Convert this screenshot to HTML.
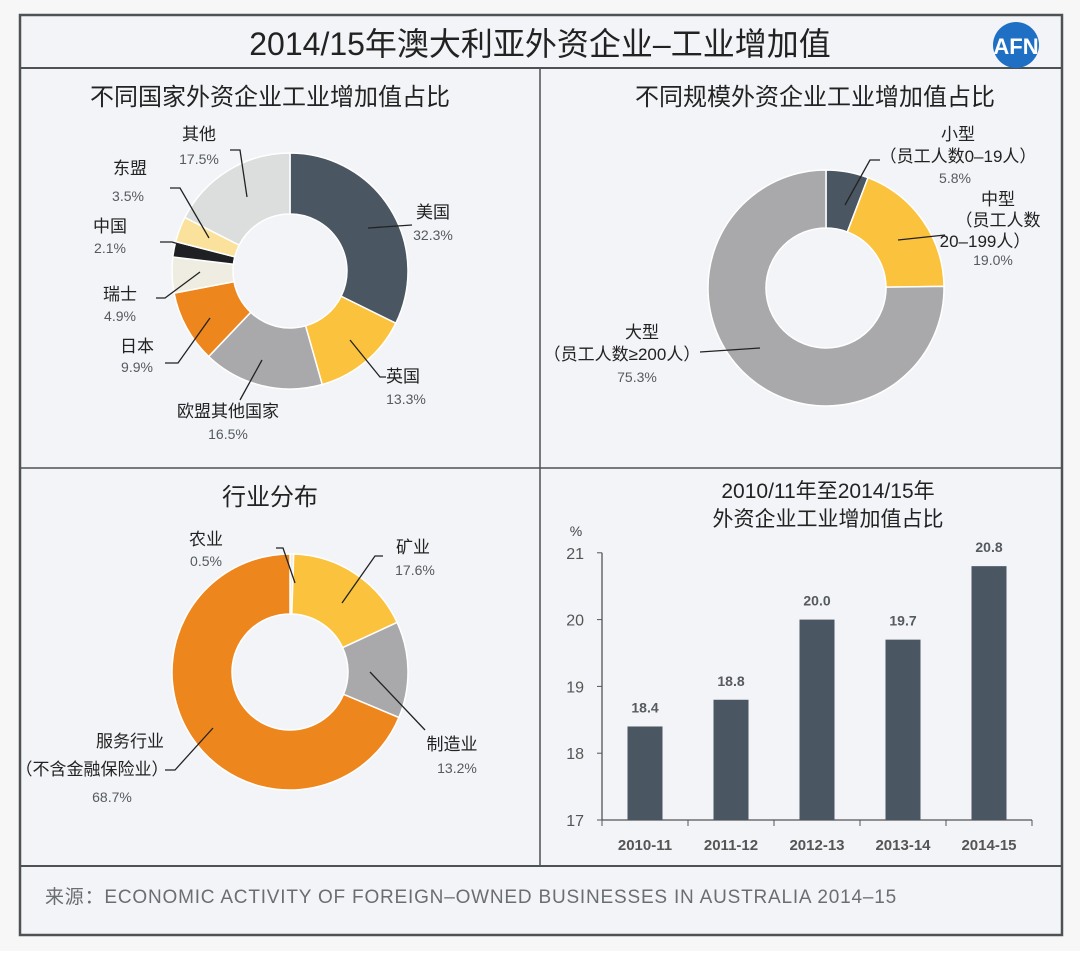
<!DOCTYPE html>
<html><head><meta charset="utf-8">
<style>
body{margin:0;background:#fff;}
svg text{font-family:"Liberation Sans","Noto Sans CJK SC",sans-serif;}
</style></head>
<body>
<svg id="root" width="1080" height="951" viewBox="0 0 1080 951" xmlns="http://www.w3.org/2000/svg">
<rect x="0" y="0" width="1080" height="951" fill="#f7f7f8"/>
<rect x="20" y="15" width="1042" height="920" fill="#f3f4f7" stroke="#4e5255" stroke-width="2.5"/>
<line x1="20" y1="68" x2="1062" y2="68" stroke="#4e5255" stroke-width="2"/>
<line x1="540" y1="68" x2="540" y2="866" stroke="#4e5255" stroke-width="1.5"/>
<line x1="20" y1="468" x2="1062" y2="468" stroke="#4e5255" stroke-width="1.5"/>
<line x1="20" y1="866" x2="1062" y2="866" stroke="#4e5255" stroke-width="2"/>
<text x="540" y="55" text-anchor="middle" font-size="32" fill="#222">2014/15年澳大利亚外资企业–工业增加值</text>
<g><circle cx="1016" cy="45" r="23" fill="#1f6fc4"/><text x="1016" y="54" text-anchor="middle" font-size="22" fill="#fff" font-weight="bold">AFN</text></g>
<text x="270" y="105" text-anchor="middle" font-size="24" fill="#222">不同国家外资企业工业增加值占比</text>
<text x="815" y="105" text-anchor="middle" font-size="24" fill="#222">不同规模外资企业工业增加值占比</text>
<text x="270" y="505" text-anchor="middle" font-size="24" fill="#222">行业分布</text>
<text x="828" y="498" text-anchor="middle" font-size="21" fill="#222">2010/11年至2014/15年</text>
<text x="828" y="526" text-anchor="middle" font-size="21" fill="#222">外资企业工业增加值占比</text>
<text x="45" y="903" font-size="19" letter-spacing="0.8" fill="#6a6e72">来源：ECONOMIC ACTIVITY OF FOREIGN–OWNED BUSINESSES IN AUSTRALIA 2014–15</text>
<g id="donuts"></g>
<g id="labels" font-size="16" fill="#333"></g>
<g id="bars"></g>
</svg>
<script>
const countryNames=["美国","英国","欧盟其他国家","日本","瑞士","中国","东盟","其他"];
const countryValues=[32.3,13.3,16.5,9.9,4.9,2.1,3.5,17.5];
const countryColors=["#4a5662","#fbc23e","#a9a9ac","#ee861e","#efece1","#1e2023","#fbe29c","#dcdedd"];
const sizeNames=["小型","中型","大型"];
const sizeValues=[5.8,19.0,75.3];
const sizeColors=["#4a5662","#fbc23e","#a9a9ac"];
const industryNames=["农业","矿业","制造业","服务行业"];
const industryValues=[0.5,17.6,13.2,68.7];
const industryColors=["#efece1","#fbc23e","#a9a9ac","#ee861e"];
const years=["2010-11","2011-12","2012-13","2013-14","2014-15"];
const shares=[18.4,18.8,20.0,19.7,20.8];
const yTicks=[17,18,19,20,21];

const NS="http://www.w3.org/2000/svg";
function mk(tag,attrs,parent){const e=document.createElementNS(NS,tag);for(const k in attrs)e.setAttribute(k,attrs[k]);parent.appendChild(e);return e;}
const dg=document.getElementById('donuts');
function donut(name,vals,cols,cx,cy,R,r){
  const tot=vals.reduce((a,b)=>a+b,0);let a0=0;
  vals.forEach((v,i)=>{
    const a1=a0+v/tot*2*Math.PI;
    const p=(a,rad)=>[cx+rad*Math.sin(a),cy-rad*Math.cos(a)];
    const [x1,y1]=p(a0,R),[x2,y2]=p(a1,R),[x3,y3]=p(a1,r),[x4,y4]=p(a0,r);
    const lg=(a1-a0)>Math.PI?1:0;
    const el=mk('path',{d:`M${x1},${y1}A${R},${R} 0 ${lg} 1 ${x2},${y2}L${x3},${y3}A${r},${r} 0 ${lg} 0 ${x4},${y4}Z`,fill:cols[i],stroke:'#fff','stroke-width':1.5},dg);
    
    
    a0=a1;
  });
}
donut('country',countryValues,countryColors,290,271,118,57);
donut('size',sizeValues,sizeColors,826,288,118,60);
donut('industry',industryValues,industryColors,290,672,118,58);

const lg=document.getElementById('labels');
function lab(x,y,t,cls,anchor){const e=mk('text',{x:x,y:y,'text-anchor':anchor||'middle','font-size':cls==='v'?14:17,fill:cls==='v'?'#555a60':'#222'},lg);e.textContent=t;

}
function ln(pts){mk('polyline',{points:pts,fill:'none',stroke:'#222','stroke-width':1.3},lg);}
lab(433,218,countryNames[0]);lab(433,240,countryValues[0]+'%','v');
lab(403,382,countryNames[1]);lab(406,404,countryValues[1]+'%','v');
lab(228,417,countryNames[2]);lab(228,439,countryValues[2]+'%','v');
lab(137,352,countryNames[3]);lab(137,372,countryValues[3]+'%','v');
lab(120,300,countryNames[4]);lab(120,321,countryValues[4]+'%','v');
lab(110,232,countryNames[5]);lab(110,253,countryValues[5]+'%','v');
lab(130,174,countryNames[6]);lab(128,201,countryValues[6]+'%','v');
lab(199,140,countryNames[7]);lab(199,164,countryValues[7]+'%','v');
ln("368,228 412,225");ln("350,340 380,377 386,377");ln("262,360 240,400");ln("210,318 178,363 165,363");ln("200,272 165,298 156,298");ln("232,260 172,242 160,242");ln("209,238 180,188 170,188");ln("247,197 240,150 230,150");
lab(958,140,sizeNames[0]);lab(958,162,'（员工人数0–19人）');lab(955,183,sizeValues[0]+'%','v');
lab(998,205,sizeNames[1]);lab(998,226,'（员工人数');lab(985,247,'20–199人）');lab(993,265,sizeValues[1].toFixed(1)+'%','v');
lab(642,338,sizeNames[2]);lab(622,360,'（员工人数≥200人）');lab(637,382,sizeValues[2]+'%','v');
ln("845,205 870,160 880,160");ln("898,240 945,235");ln("700,352 760,348");
lab(206,545,industryNames[0]);lab(206,566,industryValues[0]+'%','v');
lab(413,553,industryNames[1]);lab(415,575,industryValues[1]+'%','v');
lab(452,750,industryNames[2]);lab(457,773,industryValues[2]+'%','v');
lab(130,747,industryNames[3]);lab(92,775,'（不含金融保险业）');lab(112,802,industryValues[3]+'%','v');
ln("295,583 283,548 276,548");ln("342,603 375,556 383,556");ln("370,672 425,730");ln("213,728 175,770 165,770");

const bg=document.getElementById('bars');
const x0=602,x1=1032,yBase=820,pxPer=66.8,yMin=17;
const step=(x1-x0)/years.length,bw=35;
const Y=v=>yBase-(v-yMin)*pxPer;
const X=i=>x0+step*(i+0.5);
mk('line',{x1:x0,y1:Y(21),x2:x0,y2:yBase,stroke:'#555','stroke-width':1.3},bg);
mk('line',{x1:x0,y1:yBase,x2:x1,y2:yBase,stroke:'#555','stroke-width':1.3},bg);
const pt=mk('text',{x:576,y:536,'font-size':14,fill:'#444','text-anchor':'middle'},bg);pt.textContent='%';
yTicks.forEach(t=>{
  mk('line',{x1:x0-5,y1:Y(t),x2:x0,y2:Y(t),stroke:'#555'},bg);
  const e=mk('text',{x:x0-18,y:Y(t)+6,'font-size':16,fill:'#555','text-anchor':'end'},bg);e.textContent=t;
  
  
});
for(let i=0;i<=years.length;i++)mk('line',{x1:x0+step*i,y1:yBase,x2:x0+step*i,y2:yBase+6,stroke:'#555'},bg);
years.forEach((y,i)=>{
  const r=mk('rect',{x:X(i)-bw/2,y:Y(shares[i]),width:bw,height:yBase-Y(shares[i]),fill:'#4a5662'},bg);
  
  
  const v=mk('text',{x:X(i),y:Y(shares[i])-14,'font-size':14,'font-weight':'bold',fill:'#555a60','text-anchor':'middle'},bg);v.textContent=shares[i].toFixed(1);
  
  
  const l=mk('text',{x:X(i),y:yBase+30,'font-size':15,'font-weight':'bold',fill:'#555','text-anchor':'middle'},bg);l.textContent=y;
  
  
});
</script>
</body></html>
